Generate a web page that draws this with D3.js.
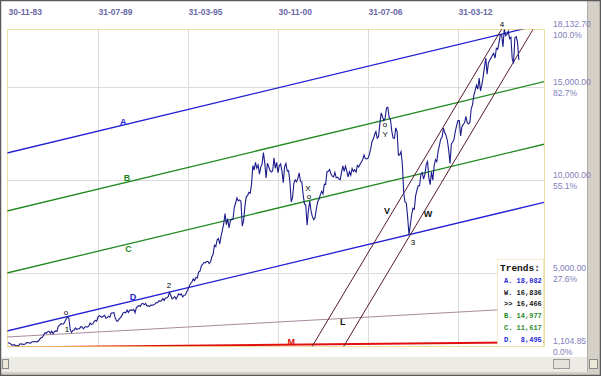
<!DOCTYPE html>
<html>
<head>
<meta charset="utf-8">
<script src="https://cdn.jsdelivr.net/npm/d3@7/dist/d3.min.js"></script>
<style>
  html, body { margin: 0; padding: 0; background: #fff; }
  svg { display: block; }
</style>
</head>
<body>
<div id="chart-area"></div>
<script>
// monthly closes, Nov 1983 .. Jan 2016 (one row per year)
const closes = [
  1276.02, 1258.64,
  1220.58, 1154.63, 1164.89, 1170.75, 1104.85, 1132.40, 1115.28, 1224.38, 1206.71, 1207.38, 1188.94, 1211.57,
  1286.77, 1284.01, 1266.78, 1258.06, 1315.41, 1335.46, 1347.45, 1334.01, 1328.63, 1374.31, 1472.13, 1546.67,
  1570.99, 1709.06, 1818.61, 1783.98, 1876.71, 1892.72, 1775.31, 1898.34, 1767.58, 1877.81, 1914.23, 1895.95,
  2158.04, 2223.99, 2304.69, 2286.36, 2291.57, 2418.53, 2572.07, 2662.95, 2596.28, 1993.53, 1833.55, 1938.83,
  1958.22, 2071.62, 1988.06, 2032.33, 2031.12, 2141.71, 2128.73, 2031.65, 2112.91, 2148.65, 2114.51, 2168.57,
  2342.32, 2258.39, 2293.62, 2418.80, 2480.15, 2440.06, 2660.66, 2737.27, 2692.82, 2645.08, 2706.27, 2753.20,
  2590.54, 2627.25, 2707.21, 2656.76, 2876.66, 2880.69, 2905.20, 2614.36, 2452.48, 2442.33, 2559.65, 2633.66,
  2736.39, 2882.18, 2913.86, 2887.87, 3027.50, 2906.75, 3024.82, 3043.60, 3016.77, 3069.10, 2894.68, 3168.83,
  3223.39, 3267.67, 3235.47, 3359.12, 3396.88, 3318.52, 3393.78, 3257.35, 3271.66, 3226.28, 3305.16, 3301.11,
  3310.03, 3370.81, 3435.11, 3427.55, 3527.43, 3516.08, 3539.47, 3651.25, 3555.12, 3680.59, 3683.95, 3754.09,
  3978.36, 3832.02, 3635.96, 3681.69, 3758.37, 3624.96, 3764.50, 3913.42, 3843.19, 3908.12, 3739.23, 3834.44,
  3843.86, 4011.05, 4157.69, 4321.27, 4465.14, 4556.10, 4708.47, 4610.56, 4789.08, 4755.48, 5074.49, 5117.12,
  5395.30, 5485.62, 5587.14, 5569.08, 5643.18, 5654.63, 5528.91, 5616.21, 5882.17, 6029.38, 6521.70, 6448.27,
  6813.09, 6877.74, 6583.48, 7008.99, 7331.04, 7672.79, 8222.61, 7622.42, 7945.26, 7442.08, 7823.13, 7908.25,
  7906.50, 8545.72, 8799.81, 9063.37, 8899.95, 8952.02, 8883.29, 7539.07, 7842.62, 8592.10, 9116.55, 9181.43,
  9358.83, 9306.58, 9786.16, 10789.04, 10559.74, 10970.80, 10655.15, 10829.28, 10336.95, 10729.86, 10877.81, 11497.12,
  10940.53, 10128.31, 10921.92, 10733.91, 10522.33, 10447.89, 10521.98, 11215.10, 10650.92, 10971.14, 10414.49, 10786.85,
  10887.36, 10495.28, 9878.78, 10734.97, 10911.94, 10502.40, 10522.81, 9949.75, 8847.56, 9075.14, 9851.56, 10021.50,
  9920.00, 10106.13, 10403.94, 9946.22, 9925.25, 9243.26, 8736.59, 8663.50, 7591.93, 8397.03, 8896.09, 8341.63,
  8053.81, 7891.08, 7992.13, 8480.09, 8850.26, 8985.44, 9233.80, 9415.82, 9275.06, 9801.12, 9782.46, 10453.92,
  10488.07, 10583.92, 10357.70, 10225.57, 10188.45, 10435.48, 10139.71, 10173.92, 10080.27, 10027.47, 10428.02, 10783.01,
  10489.94, 10766.23, 10503.76, 10192.51, 10467.48, 10274.97, 10640.91, 10481.60, 10568.70, 10440.07, 10805.87, 10717.50,
  10864.86, 10993.41, 11109.32, 11367.14, 11168.31, 11150.22, 11185.68, 11381.15, 11679.07, 12080.73, 12221.93, 12463.15,
  12621.69, 12268.63, 12354.35, 13062.91, 13627.64, 13408.62, 13211.99, 13357.74, 13895.63, 13930.01, 13371.72, 13264.82,
  12650.36, 12266.39, 12262.89, 12820.13, 12638.32, 11350.01, 11378.02, 11543.55, 10850.66, 9325.01, 8829.04, 8776.39,
  8000.86, 7062.93, 7608.92, 8168.12, 8500.33, 8447.00, 9171.61, 9496.28, 9712.28, 9712.73, 10344.84, 10428.05,
  10067.33, 10325.26, 10856.63, 11008.61, 10136.63, 9774.02, 10465.94, 10014.72, 10788.05, 11118.49, 11006.02, 11577.51,
  11891.93, 12226.34, 12319.73, 12810.54, 12569.79, 12414.34, 12143.24, 11613.53, 10913.38, 11955.01, 12045.68, 12217.56,
  12632.91, 12952.07, 13212.04, 13213.63, 12393.45, 12880.09, 13008.68, 13090.84, 13437.13, 13096.46, 13025.58, 13104.14,
  13860.58, 14054.49, 14578.54, 14839.80, 15115.57, 14909.60, 15499.54, 14810.31, 15129.67, 15545.75, 16086.41, 16576.66,
  15698.85, 16321.71, 16457.66, 16580.84, 16717.17, 16826.60, 16563.30, 17098.45, 17042.90, 17390.52, 17828.24, 17823.07,
  17164.95, 18132.70, 17776.12, 17840.52, 18010.68, 17619.51, 17689.86, 16528.03, 16284.70, 17663.54, 17719.92, 17425.03,
  16466.30
];

// date labels along the top (bar index of each)
const dateTicks = [0, 68, 136, 204, 272, 340];
const dateLabels = ['30-11-83', '31-07-89', '31-03-95', '30-11-00', '31-07-06', '31-03-12'];

// right hand price axis
const priceTicks = [18132.70, 15000, 10000, 5000, 1104.85];
const priceLabels = ['18,132.70', '15,000.00', '10,000.00', '5,000.00', '1,104.85'];
const pctLabels = ['100.0%', '82.7%', '55.1%', '27.6%', '0.0%'];
const gridValues = [15000, 10000, 5000];

// trend lines, two anchor points each as [bar index, value]
const trendNames = ['A', 'B', 'C', 'D', 'L', 'M', 'V', 'W'];
const trendPoints = [
  [[0, 11485], [386, 18082]],
  [[0, 8369], [386, 14977]],
  [[0, 5039], [386, 11617]],
  [[0, 1924], [386, 8495]],
  [[0, 1591], [386, 3108]],
  [[110, 1105], [386, 1304]],
  [[230, 1105], [370, 17765]],
  [[303, 6960], [386, 16836]]
];
const trendColors = ['#1f1fd6', '#1f8a1f', '#1f8a1f', '#1f1fd6', '#a88aa0', '#e01010', '#5a1a2c', '#5a1a2c'];

// line name labels [bar index, value]
const nameAnchors = [[87, 13137], [90, 10129], [91, 6315], [94.5, 3737], [253, 2394], [214, 1320], [286.4, 8357], [317.3, 8196]];

// wave count labels
const waveText = ['o', '1', '2', 'X', 'o', 'o', 'Y', '3', '4'];
const waveAnchors = [[43.8, 2931], [44.6, 2018], [121.7, 4382], [226.7, 9592], [227.4, 9162], [284.9, 13030], [284.9, 12493], [306, 6691], [373.3, 18402]];

// values box
const boxTitle = 'Trends:';
const boxRows = ['A. 18,082', 'W. 16,836', '>> 16,466', 'B. 14,977', 'C. 11,617', 'D.  8,495'];
const boxColors = ['#1f1fd6', '#111', '#111', '#1f8a1f', '#1f8a1f', '#1f1fd6'];

const W = 601, H = 376;
const plot = { left: 7, right: 544, top: 29, bottom: 346 };

const svg = d3.select('#chart-area')
  .append('svg')
  .attr('width', W)
  .attr('height', H);

// window chrome
svg.append('rect').attr('x', 0).attr('y', 0).attr('width', W).attr('height', H).attr('fill', '#fff');
svg.append('rect').attr('x', 587).attr('y', 0).attr('width', 14).attr('height', H).attr('fill', '#d4d0c8');
svg.append('line').attr('x1', 587.5).attr('x2', 587.5).attr('y1', 0).attr('y2', H).attr('stroke', '#b0aca4');
svg.append('rect').attr('x', 0).attr('y', 357).attr('width', 587).attr('height', 15).attr('fill', '#ecebe6');
svg.append('rect').attr('x', 0).attr('y', 372).attr('width', W).attr('height', 4).attr('fill', '#d4d0c8');
svg.append('rect').attr('x', 2.5).attr('y', 359.5).attr('width', 6).attr('height', 9).attr('fill', '#ece9d8').attr('stroke', '#888');
svg.append('rect').attr('x', 553.5).attr('y', 359.5).attr('width', 16).attr('height', 9).attr('fill', '#e4e2da').attr('stroke', '#999');
svg.append('rect').attr('x', 589.5).attr('y', 359.5).attr('width', 8).attr('height', 9).attr('fill', '#ece9d8').attr('stroke', '#888');
svg.append('rect').attr('x', 0.5).attr('y', 0.5).attr('width', W - 1).attr('height', H - 1)
  .attr('fill', 'none').attr('stroke', '#5a5a5a').attr('stroke-width', 1.5);

const x = d3.scaleLinear().domain([0, 405]).range([8, plot.right]);
const y = d3.scaleLinear().domain([1104.85, 18132.70]).range([plot.bottom, plot.top]);

// grid
svg.append('g').selectAll('line')
  .data(dateTicks.slice(1))
  .enter().append('line')
  .attr('x1', d => Math.round(x(d)) + 0.5).attr('x2', d => Math.round(x(d)) + 0.5)
  .attr('y1', plot.top).attr('y2', plot.bottom)
  .attr('stroke', '#dcdcdc');

svg.append('g').selectAll('line')
  .data(gridValues)
  .enter().append('line')
  .attr('x1', plot.left).attr('x2', plot.right)
  .attr('y1', d => Math.round(y(d)) + 0.5).attr('y2', d => Math.round(y(d)) + 0.5)
  .attr('stroke', '#dcdcdc');

// date labels
svg.append('g').selectAll('text')
  .data(dateTicks)
  .enter().append('text')
  .attr('x', d => x(d) + 0.5)
  .attr('y', 15)
  .attr('font-family', 'Liberation Sans, Arial, sans-serif')
  .attr('font-size', '8.5px')
  .attr('font-weight', 'bold')
  .attr('fill', '#6a6aa6')
  .text((d, i) => dateLabels[i]);

// price labels
const axisR = svg.append('g').attr('font-family', 'Liberation Sans, Arial, sans-serif')
  .attr('font-size', '8.5px').attr('fill', '#8080ba');
axisR.selectAll('.v').data(priceTicks).enter().append('text')
  .attr('class', 'v').attr('x', 553).attr('y', d => y(d) - 2).text((d, i) => priceLabels[i]);
axisR.selectAll('.p').data(priceTicks).enter().append('text')
  .attr('class', 'p').attr('x', 553).attr('y', d => y(d) + 9).text((d, i) => pctLabels[i]);

// clip for plot area
svg.append('clipPath').attr('id', 'clip')
  .append('rect').attr('x', plot.left).attr('y', plot.top)
  .attr('width', plot.right - plot.left).attr('height', plot.bottom - plot.top + 0.5);

const g = svg.append('g').attr('clip-path', 'url(#clip)');

// trend lines, extended over the whole plot
const extend = (p) => {
  const s = (p[1][1] - p[0][1]) / (p[1][0] - p[0][0]);
  return [[-10, p[0][1] + s * (-10 - p[0][0])], [420, p[0][1] + s * (420 - p[0][0])]];
};
g.selectAll('.trend')
  .data(trendPoints)
  .enter().append('line')
  .attr('class', 'trend')
  .attr('x1', d => x(extend(d)[0][0])).attr('y1', d => y(extend(d)[0][1]))
  .attr('x2', d => x(extend(d)[1][0])).attr('y2', d => y(extend(d)[1][1]))
  .attr('stroke', (d, i) => trendColors[i])
  .attr('stroke-width', (d, i) => trendNames[i] === 'M' ? 2 : (i < 4 ? 1.3 : 1));

// price line
const line = d3.line().x((d, i) => x(i)).y(d => y(d));
g.append('path')
  .datum(closes)
  .attr('d', line)
  .attr('fill', 'none')
  .attr('stroke', '#1c1c8c')
  .attr('stroke-width', 1.1);

// plot border
svg.append('rect')
  .attr('x', plot.left + 0.5).attr('y', plot.top + 0.5)
  .attr('width', plot.right - plot.left).attr('height', plot.bottom - plot.top)
  .attr('fill', 'none').attr('stroke', '#e2c23a').attr('stroke-dasharray', '1,1');

// trend names
svg.append('g').selectAll('text')
  .data(nameAnchors)
  .enter().append('text')
  .attr('x', d => x(d[0])).attr('y', d => y(d[1]))
  .attr('dy', '0.35em')
  .attr('text-anchor', 'middle')
  .attr('font-family', 'Liberation Sans, Arial, sans-serif')
  .attr('font-size', '9px')
  .attr('font-weight', 'bold')
  .attr('fill', (d, i) => ['L', 'V', 'W'].includes(trendNames[i]) ? '#111' : trendColors[i])
  .text((d, i) => trendNames[i]);

// wave labels
svg.append('g').selectAll('text')
  .data(waveAnchors)
  .enter().append('text')
  .attr('x', d => x(d[0])).attr('y', d => y(d[1]))
  .attr('dy', '0.35em')
  .attr('text-anchor', 'middle')
  .attr('font-family', 'Liberation Sans, Arial, sans-serif')
  .attr('font-size', '8px')
  .attr('fill', '#000')
  .text((d, i) => waveText[i]);

// trends box
const box = svg.append('g');
box.append('rect')
  .attr('x', 497.5).attr('y', 259.5).attr('width', 46).attr('height', 87)
  .attr('fill', '#fff').attr('stroke', '#e8d488').attr('stroke-dasharray', '1,1');
box.append('text')
  .attr('x', 500).attr('y', 271)
  .attr('font-family', 'Liberation Mono, Courier New, monospace')
  .attr('font-size', '9.5px').attr('font-weight', 'bold').attr('fill', '#111')
  .text(boxTitle);
box.selectAll('.row')
  .data(boxRows)
  .enter().append('text')
  .attr('class', 'row')
  .attr('x', 504).attr('y', (d, i) => 283 + i * 11.7)
  .attr('font-family', 'Liberation Mono, Courier New, monospace')
  .attr('font-size', '7px')
  .attr('font-weight', 'bold')
  .attr('xml:space', 'preserve')
  .style('white-space', 'pre')
  .attr('fill', (d, i) => boxColors[i])
  .text(d => d);
</script>
</body>
</html>
